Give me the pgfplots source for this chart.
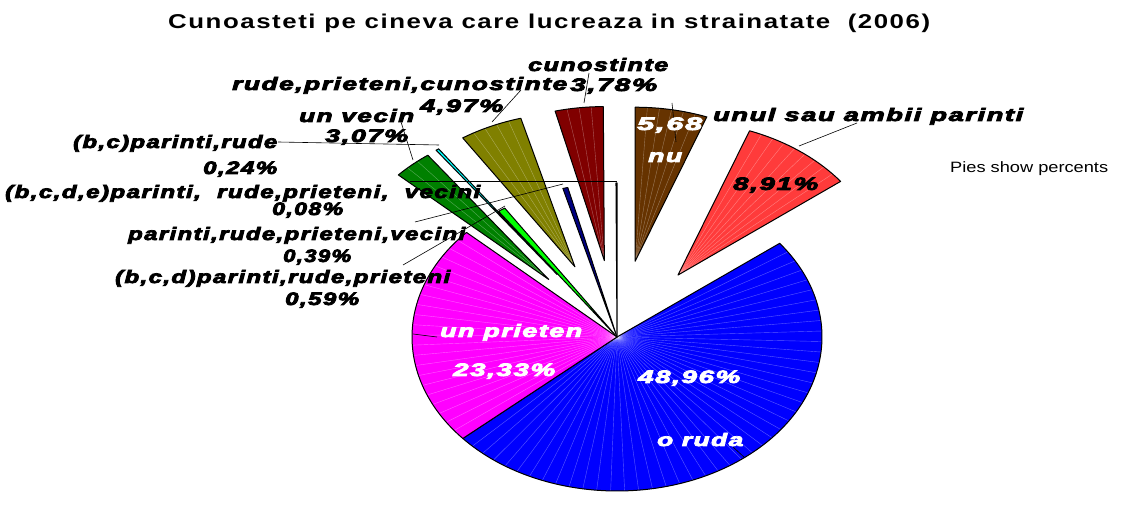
\documentclass[border=0pt]{standalone}
\usepackage{pgfplots}
\pgfplotsset{compat=1.18}
\usepackage{pgfplotstable}
\usepackage{graphicx}
\usepackage{fontspec}
\setmainfont{Liberation Sans}
\newfontfamily\labfont{Liberation Sans}[LetterSpace=6,BoldItalicFeatures={FakeBold=4}]
\newfontfamily\titlefont{Liberation Sans}[LetterSpace=6]
\definecolor{cnu}{HTML}{663300}
\definecolor{cred}{HTML}{FF3B3B}
\definecolor{cblue}{HTML}{0000FF}
\definecolor{cmag}{HTML}{FF00FF}
\definecolor{cdg}{HTML}{008000}
\definecolor{ccy}{HTML}{00FFFF}
\definecolor{clg}{HTML}{00FF00}
\definecolor{colv}{HTML}{808000}
\definecolor{cnavy}{HTML}{000080}
\definecolor{cdr}{HTML}{800000}
\newcommand\lbl[2]{\resizebox{#1pt}{\height}{\labfont\bfseries\itshape\fontsize{18}{20}\selectfont #2}}
\pgfplotstableread{
value col ex
5.68 cnu 0.5
8.91 cred 0.5
48.96 cblue 0
23.33 cmag 0
3.07 cdg 0.5
0.24 ccy 0.5
0.59 clg 0
4.97 colv 0.5
0.39 cnavy 0
3.78 cdr 0.5
0.08 white 0
}\piedata
\begin{document}
\begin{tikzpicture}
\begin{axis}[scale only axis, width=1125pt, height=490pt,
  xmin=0, xmax=1125, ymin=0, ymax=490, hide axis, clip=false]
\path (rel axis cs:0,0) rectangle (rel axis cs:1,1);
\def\cum{0}
\pgfplotsforeachungrouped \i in {0,...,10}{%
  \pgfplotstablegetelem{\i}{value}\of\piedata\let\pv\pgfplotsretval
  \pgfplotstablegetelem{\i}{col}\of\piedata\let\pc\pgfplotsretval
  \pgfplotstablegetelem{\i}{ex}\of\piedata\let\pe\pgfplotsretval
  \pgfmathsetmacro\ta{\cum*3.6}
  \pgfmathsetmacro\tb{(\cum+\pv)*3.6}
  \pgfmathsetmacro\tm{(\ta+\tb)/2}
  \pgfmathsetmacro\ox{617+\pe*205*sin(\tm)}
  \pgfmathsetmacro\oy{153+\pe*154*cos(\tm)}
  \pgfmathsetmacro\sx{\ox+205*sin(\ta)}
  \pgfmathsetmacro\sy{\oy+154*cos(\ta)}
  \pgfmathsetmacro\pa{90-\ta}
  \pgfmathsetmacro\pb{90-\tb}
  \edef\doit{\noexpand\fill[fill=\pc]
     (axis cs:\ox,\oy) -- (axis cs:\sx,\sy) arc[start angle=\pa, end angle=\pb, x radius=205, y radius=154] -- cycle;}%
  \doit
  % faint radial shading lines
  \pgfmathtruncatemacro\nl{\pv/1.1}%
  \ifnum\nl>0
    \pgfplotsforeachungrouped \j in {1,...,\nl}{%
      \pgfmathsetmacro\tl{\ta+\j*(\tb-\ta)/(\nl+1)}%
      \pgfmathsetmacro\lx{\ox+205*sin(\tl)}%
      \pgfmathsetmacro\ly{\oy+154*cos(\tl)}%
      \edef\doline{\noexpand\draw[white, opacity=0.35, line width=0.4pt] (axis cs:\ox,\oy) -- (axis cs:\lx,\ly);}%
      \doline
    }%
  \fi
  \edef\doit{\noexpand\draw[draw=black, line width=1pt, line join=round]
     (axis cs:\ox,\oy) -- (axis cs:\sx,\sy) arc[start angle=\pa, end angle=\pb, x radius=205, y radius=154] -- cycle;}%
  \doit
  \pgfmathsetmacro\cum{\cum+\pv}%
}
% leader lines
\draw[black, line width=0.6pt] (axis cs:589,417) -- (axis cs:584,387);
\draw[black, line width=0.6pt] (axis cs:521,400) -- (axis cs:492,368);
\draw[black, line width=0.6pt] (axis cs:401,368) -- (axis cs:413,330);
\draw[black, line width=0.6pt] (axis cs:278,348) -- (axis cs:439,345);
\draw[black, line width=0.6pt] (axis cs:410,309) -- (axis cs:617,309);
\draw[black, line width=0.6pt] (axis cs:415,268) -- (axis cs:563,306);
\draw[black, line width=0.6pt] (axis cs:403,225) -- (axis cs:505,284);
\draw[black, line width=0.6pt] (axis cs:413,156) -- (axis cs:437,153);
\draw[black, line width=0.6pt] (axis cs:733,43) -- (axis cs:745,32);
\draw[black, line width=0.6pt] (axis cs:672,387) -- (axis cs:676,348);
\draw[black, line width=0.6pt] (axis cs:799,344) -- (axis cs:857,367);
% title
\node[anchor=base west, inner sep=0pt] at (axis cs:168,461) {\resizebox{762pt}{\height}{\titlefont\bfseries\fontsize{20}{22}\selectfont Cunoasteti pe cineva care lucreaza in strainatate~ (2006)}};
\node[anchor=base west, inner sep=0pt] at (axis cs:950,317) {\resizebox{158pt}{\height}{\fontsize{15}{17}\selectfont Pies show percents}};
% labels
\tikzset{lb/.style={anchor=base west, inner sep=0pt}}
\node[lb] at (axis cs:528,419) {\lbl{140}{cunostinte}};
\node[lb] at (axis cs:232,400) {\lbl{335}{rude,prieteni,cunostinte}};
\node[lb] at (axis cs:570,399) {\lbl{87}{3,78\%}};
\node[lb] at (axis cs:420,378) {\lbl{83}{4,97\%}};
\node[lb] at (axis cs:299,368) {\lbl{115}{un vecin}};
\node[lb] at (axis cs:325,348) {\lbl{83}{3,07\%}};
\node[lb] at (axis cs:73,342) {\lbl{204}{(b,c)parinti,rude}};
\node[lb] at (axis cs:203,316) {\lbl{74}{0,24\%}};
\node[lb] at (axis cs:5,292) {\lbl{475}{(b,c,d,e)parinti,~ rude,prieteni,~ vecini}};
\node[lb] at (axis cs:272,275) {\lbl{71}{0,08\%}};
\node[lb] at (axis cs:128,250) {\lbl{337}{parinti,rude,prieteni,vecini}};
\node[lb] at (axis cs:283,228) {\lbl{68}{0,39\%}};
\node[lb] at (axis cs:115,207) {\lbl{335}{(b,c,d)parinti,rude,prieteni}};
\node[lb] at (axis cs:285,185) {\lbl{74}{0,59\%}};
\node[lb, text=white] at (axis cs:440,153) {\lbl{142}{un prieten}};
\node[lb, text=white] at (axis cs:453,114) {\lbl{102}{23,33\%}};
\node[lb, text=white] at (axis cs:638,107) {\lbl{102}{48,96\%}};
\node[lb, text=white] at (axis cs:657,44) {\lbl{86}{o ruda}};
\node[lb, text=white] at (axis cs:637,360) {\lbl{65}{5,68}};
\node[lb, text=white] at (axis cs:648,328) {\lbl{34}{nu}};
\node[lb] at (axis cs:713,369) {\lbl{310}{unul sau ambii parinti}};
\node[lb] at (axis cs:733,300) {\lbl{85}{8,91\%}};
\end{axis}
\end{tikzpicture}
\end{document}
